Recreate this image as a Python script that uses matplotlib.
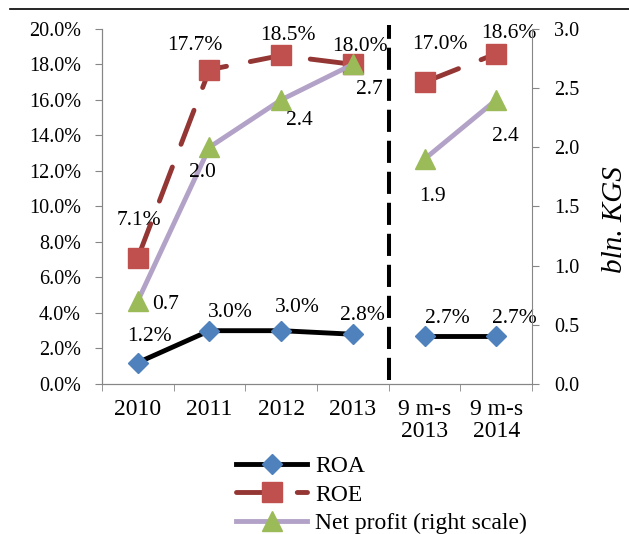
import matplotlib.pyplot as plt
from matplotlib.lines import Line2D
import numpy as np

plt.rcParams['font.family'] = ['Liberation Serif', 'DejaVu Serif']
plt.rcParams['font.size'] = 15

periods = ["2010", "2011", "2012", "2013", "9 m-s\n2013", "9 m-s\n2014"]
roa = [1.2, 3.0, 3.0, 2.8, 2.7, 2.7]
roe = [7.1, 17.7, 18.5, 18.0, 17.0, 18.6]
net_profit = [0.7, 2.0, 2.4, 2.7, 1.9, 2.4]

# annual points and the 9-month points are drawn as separate runs
runs = [slice(0, 4), slice(4, 6)]

fig = plt.figure(figsize=(6.29, 5.34), dpi=100)
ax = fig.add_axes([0.162, 0.281, 0.684, 0.665])
ax2 = ax.twinx()

x = np.arange(len(periods))
grey = "#868686"
lw = 3.5

for i, r in enumerate(runs):
    ax.plot(x[r], roa[r], color="black", lw=lw, marker="D", ms=10.5,
            mfc="#4F81BD", mec="#4F81BD", zorder=4,
            label="ROA" if i == 0 else None)
    ax.plot(x[r], roe[r], color="#943634", lw=lw, dashes=(7.5, 5),
            dash_capstyle="round", marker="s", ms=14, mfc="#C0504D",
            mec="#C0504D", zorder=3, label="ROE" if i == 0 else None)
    ax2.plot(x[r], net_profit[r], color="#B3A2C7", lw=lw, marker="^", ms=15,
             mfc="#9BBB59", mec="#9BBB59", zorder=3,
             label="Net profit (right scale)" if i == 0 else None)

# value labels (offsets in pixels from the point)
lab_fs = 15.5
roa_off = [(12, 26), (21, 18), (16, 23), (10, 19), (23, 18), (18, 18)]
for xi, v, off in zip(x, roa, roa_off):
    ax.annotate(f"{v:.1f}%", (xi, v), xytext=off, textcoords="offset pixels",
                ha="center", va="center", fontsize=lab_fs, zorder=6)

roe_off = [(1, 37), (-15, 24), (7, 20), (7, 18), (15, 38), (13, 20)]
for xi, v, off in zip(x, roe, roe_off):
    ax.annotate(f"{v:.1f}%", (xi, v), xytext=off, textcoords="offset pixels",
                ha="center", va="center", fontsize=lab_fs, zorder=6)

np_off = [(28, -3), (-7, -25), (18, -21), (17, -25), (8, -37), (9, -37)]
for xi, v, off in zip(x, net_profit, np_off):
    ax2.annotate(f"{v:.1f}", (xi, v), xytext=off, textcoords="offset pixels",
                 ha="center", va="center", fontsize=lab_fs, zorder=6)

# break between annual and 9-month figures
ax.axvline(3.5, ymin=0.01, ymax=1.012, color="black", lw=2.9,
           dashes=(5.5, 2.2), clip_on=False, zorder=5)

ax.set_xlim(-0.5, 5.5)
ax.set_ylim(0, 20)
ax2.set_ylim(0, 3)
ax.set_yticks(np.arange(0, 21, 2))
ax.set_yticklabels([f"{t:.1f}%" for t in np.arange(0, 21, 2)], fontsize=14.5)
ax2.set_yticks(np.arange(0, 3.01, 0.5))
ax2.set_yticklabels([f"{t:.1f}" for t in np.arange(0, 3.01, 0.5)],
                    fontsize=14.5)
ax.set_xticks(x)
ax.set_xticklabels(periods, fontsize=17, linespacing=1.05)
ax.set_xticks(np.arange(-0.5, 6, 1), minor=True)
ax.tick_params(axis="x", which="major", length=0, pad=11)
ax.tick_params(axis="x", which="minor", length=5, color=grey)
ax.tick_params(axis="y", length=5, color=grey, pad=10)
ax2.tick_params(axis="y", length=5, color=grey, pad=11)

for a in (ax, ax2):
    a.spines["top"].set_visible(False)
    for s in ("left", "right", "bottom"):
        a.spines[s].set_color(grey)
ax.spines["right"].set_visible(False)

fig.text(615 / 629, 1 - 220 / 534, "bln. KGS", style="italic", fontsize=21,
         rotation=90, ha="center", va="center")

h1, l1 = ax.get_legend_handles_labels()
h2, l2 = ax2.get_legend_handles_labels()
fig.legend(h1 + h2, l1 + l2, loc="upper left", bbox_to_anchor=(0.357, 0.169),
           frameon=False, handlelength=3.0, labelspacing=0.3, borderpad=0,
           handletextpad=0.35, fontsize=17)

fig.add_artist(Line2D([0.016, 1.0], [0.983, 0.983], color="black", lw=1.2))

fig.savefig("out.png", dpi=100)
